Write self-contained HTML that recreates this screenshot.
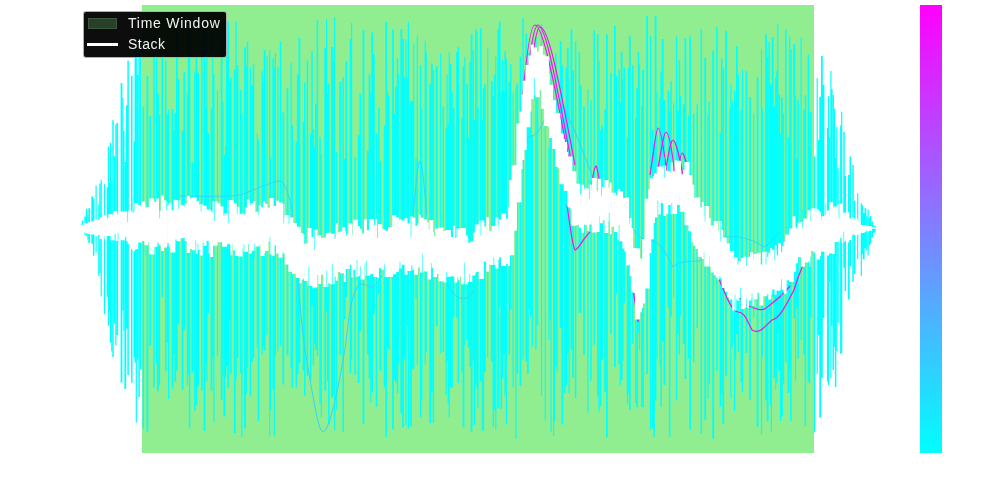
<!DOCTYPE html>
<html><head><meta charset="utf-8"><style>html,body{margin:0;padding:0;background:#fff;width:1000px;height:500px;overflow:hidden;position:relative}</style></head>
<body>
<svg width="1000" height="500" viewBox="0 0 1000 500" style="position:absolute;left:0;top:0">
<defs><linearGradient id="cb" x1="0" y1="0" x2="0" y2="1"><stop offset="0" stop-color="#ff00ff"/><stop offset="1" stop-color="#00ffff"/></linearGradient></defs>
<rect x="142" y="5" width="672" height="448" fill="#90ee90"/>
<g fill="none" stroke="#00ffff"><path stroke-width="1.2" d="M87.9 215.1V239.7M96.1 185.5V252.6M98.8 204.5V276M101.2 179.8V296.4M104.5 184.3V314.1M107.3 187.2V297.1M108.4 146.5V325.9M109.4 182.9V310.6M111.8 181.1V351.6M115.9 124.7V345.6M122.9 98V310.6M123.9 131.1V331.1M134.2 141.5V357.6M135.2 50.6V362.4M136.3 42.6V422.6M156.6 55.2V364.3M168.6 109.7V399.1M187.4 93V385.3M188.4 35.7V375M205.8 107.7V363.8M206.9 23.7V381.3M212.8 30V357.4M213.9 74.3V422.3M217.5 90.3V356.2M222.9 102V376M225.6 145.5V377.5M236.1 21V379.8M241.9 113.3V436.9M246.3 66.6V394M257.3 133.6V347.5M262.2 70.5V354.5M263.2 81.1V345.7M267 56.4V335.1M269.7 50.2V436.4M270.7 156.9V410.3M274.3 68.1V435.7M275.4 53.3V355.5M277.9 66.7V351.2M291.1 62.8V367.9M314.6 146.7V344.3M321.3 153.9V417.3M326.6 19.2V311.8M327.6 94.1V381M334.7 16.9V430.2M336.7 151.8V409.7M351.6 23.1V360.3M370.8 93.3V402.5M387.4 90.5V347.1M398.7 73.8V364.2M406 39.8V425M408.4 22.1V428.4M413.7 43.4V369.1M417.3 35.6V364.7M421.9 109.3V400.5M425.2 40.8V364.7M426.2 51.9V352.8M440.7 53.7V353.5M446.1 128.7V395.1M447.1 74.7V361M448.2 123.7V403.2M449.2 52.2V417.3M464.9 57.3V344.7M477 32.1V387.9M478 108V407.7M482.2 120.1V430.4M487.7 48.2V357.5M495.8 56.7V429.4M506.4 58.6V424.6M513.1 92.6V387.5M515.9 86.5V439M541.5 24.1V395.7M545.3 99.5V420.3M549 147.6V340M550.1 110.3V319.7M551.1 60.9V432.3M553.6 85.1V435.9M554.7 108.9V421M557.1 100.8V371.7M569.1 78.5V393.1M587.9 88.9V412.4M599 61.1V411.6M620.3 101.9V385.3M623 80.3V360.7M627.4 137.6V403.4M628.5 67.7V393.3M635.7 118V403.6M638.4 52.1V332.8M639.5 63.5V350.3M641.7 106.2V407.1M650.5 36.1V430.1M656.9 92V358.9M660 97.6V366.9M673.7 103.2V297.8M676.5 36.4V400.5M680.6 95.7V316.5M707.9 114.9V399.1M729.9 108.6V298.2M730.9 84.2V397.5M734.5 90.6V411M735.6 101.7V359.3M738.3 74.3V351.5M742.5 70.1V392.4M753.7 114V317.6M761.5 49.5V434.4M762.5 108.8V356.4M770.3 84.1V405.2M771.4 85.3V431.6M775.7 77.8V389.9M776.8 70.9V383M777.8 23.8V334M780.5 133.3V420.8M789.7 36.8V370.3M795.6 95.6V380.8M801.1 37.2V340.1M809.6 145V383.8M817.2 78.3V374.2M827.5 128.1V381.6M828.5 96.3V384.9M830.9 70.9V378.2M832 89.1V326.1M834.4 108.8V346.8M836.8 126.9V351.1M840.7 125.5V353.9M841.7 111.8V353M857.7 193.3V259.3M861.3 203V276M862.4 205.2V254.5M868.1 209.6V255.6M873.5 225.3V232.9"/><path stroke-width="1.5" d="M82.6 220.5V230.1M86.7 208.8V235.6M93.7 198.5V255.7M100 183.4V272.7M110.6 142.7V342.8M113 120.3V357M126.8 105.2V328.4M128.1 60.7V375M131.8 75.9V382.8M139.1 48.5V396.9M143.3 106.4V428.6M154 36.1V387.8M159.4 114.9V385.2M165.8 60.4V371.1M172.4 109V388.4M173.8 130.9V354.2M189.6 18V428.4M194.9 71.2V411.1M201.9 38.7V390.8M226.8 39.8V365.7M228.2 21.5V387.7M229.5 81.7V320.2M230.9 77.4V373.8M240.7 90.1V373.1M247.5 41.9V367.6M250.5 67.6V396.6M253.5 64.3V358.2M258.5 139.5V421M273.1 58.2V389M280.5 41.4V346M292.3 124.9V388.1M296.3 142.1V387.4M303.4 122V370.6M304.8 82.4V395.8M307.4 60.4V375.8M310.7 133.9V380.3M312 51V305.4M313.4 129.2V365.6M317.4 19.7V355.8M320.1 137V403.6M328.8 83.5V424.7M333.5 61.4V395.4M343.2 77.3V432.2M350.4 38.7V373.1M355 157.3V375.1M376.5 133.4V407.1M378.9 108.1V294.3M386.2 22V436.8M394.5 113.8V380M397.5 58V392.9M407.2 77.7V326.2M412.5 101.3V368.8M416.1 158.8V298.1M420.7 64.9V417.6M433.4 70V422.9M443.3 106.6V352.1M452.1 91.7V387.8M456.9 52.3V317.7M458.3 46.8V382.9M462 117.9V372.2M468.7 137.7V347.4M470.1 61.4V367.1M473.1 49.9V360.8M474.4 119.6V425M475.8 29.1V384.8M483.4 88.4V431.2M493.3 96V426.4M494.6 74.8V410.3M498.2 29.4V408.2M501.2 92.2V409.1M502.5 59.6V379M503.9 90.8V354.4M505.2 51V395.4M509.3 81.5V354.4M510.7 64.5V309.5M523.1 18V359.2M529.4 68.5V309.1M532.4 135.6V346.2M535.9 37.5V349.2M555.9 53V367.1M564.9 107V393.5M566.3 67.6V385.7M575.6 41.6V397.9M579.3 52.2V312.7M591 100.5V380.7M594.2 30.3V344.7M597.8 34.1V395.7M610.9 73V334M616.4 75.8V294.3M619.1 69.7V364.1M624.2 67.4V303M632.8 65.1V343.7M652.7 129.6V428.6M654.1 145.6V436.7M661.2 71.3V407.1M668.4 90.5V308.1M669.7 111.2V437.1M671.1 80.9V316.7M679.4 60.2V354.6M690.2 36.6V430M693.7 114V362.3M697.2 104.6V328.1M701.3 29V433.8M709.1 101.8V384.2M716.9 26.9V370.9M720.4 132.9V406.8M721.7 58.3V393.8M732.1 101.5V347.3M741.3 110.6V382.1M769.1 42.1V312.7M783.4 113.8V384.4M785.9 29V362.6M790.9 49.2V421M796.8 158.7V307.8M798.1 99.8V358.6M804 110.1V354.8M805.4 95.2V426.3M808.4 54.5V381.9M810.8 111.4V317.2M814.5 156.5V432.2M829.7 137.6V281.7M833.2 94.9V370.1M835.6 158.1V387M838 168.3V322.6M844 131.8V267.7M845.3 175.9V291M850.3 156.6V266.3M853 164.9V281.9M866.9 216.2V250.5M869.3 217.7V245.6M870.6 216V243.7"/><path stroke-width="1.8" d="M81.1 224.6V230.1M85.2 216.6V234.7M89.2 208.3V242.9M92.2 196.4V243.7M114.5 156.3V323.8M117.2 122.9V334.9M121.5 82.9V382.4M125.3 162V389M137.6 74.4V359.8M140.6 40.5V369.6M147.4 76V431.5M150.2 116V345.8M157.9 93.7V391.4M162.4 51.5V297.4M167.3 114.9V342.9M175.3 113V381.8M176.9 26.7V370.4M178.6 79.3V324.1M182.6 130.8V389.8M184.3 72.2V330.2M192.4 162.2V372.5M196.4 55.5V404.8M198.1 73V386.2M204.5 28.2V430.8M208.2 133.2V313.1M211.5 108.5V390.4M221.6 41.7V400M224.3 154.9V416.5M234.8 69.2V432.9M237.5 65.4V358M245 47.4V428.5M252 85.5V362.1M264.6 50.3V350.3M283.3 112.6V384.6M287.5 88.2V355.2M297.8 74.6V374.6M299.4 37.9V362.9M315.9 104.1V350.3M325.2 47.7V390.8M332 46.9V397.8M340.3 81.7V355.3M344.7 159.1V319.1M346.3 61.3V297.1M358.6 134.9V383M360.3 93.9V331.3M363.5 30.2V424.2M367.8 150.8V354.6M369.5 74.3V378.3M372.2 32.4V392.5M373.8 54.2V313.9M380.4 161V370.7M384.7 125.3V387.2M388.7 95.4V348.9M393 29.4V429.4M396 86.4V382.3M401.3 29.1V413.1M403 39.1V427.3M404.6 77.6V359.3M411 100.9V426.3M430.2 83.6V423.2M431.9 63.3V392.4M436.7 66.4V326.2M450.6 63.8V387.3M453.6 108.5V317.2M463.5 66.6V427.3M467.2 83.6V339.8M471.6 34.3V432.2M480.8 28.6V381.6M484.9 84.6V372.2M491.8 81.2V361.7M499.7 21.7V307.5M517.3 83.7V373.4M520.5 56.8V386.1M526.3 33.6V361.3M527.9 53V374.1M530.9 82V316.6M537.4 59.9V325M560.7 41.3V327.7M562.3 65.1V424.4M567.8 47.7V353.2M571.5 29.6V349.4M573.1 71.1V377.7M580.8 85V313.1M584 106.2V354.7M600.3 130.4V406.2M602 125.4V359.4M605.2 109.2V391.7M606.9 34.3V437.4M614.9 26V367.2M621.7 51.4V379.9M629.8 35.5V410M637.1 88.2V407.3M643 69.9V407.3M647.1 16.2V374.1M655.6 16.1V400.6M662.7 39.1V341.4M664.4 100.3V385M677.9 110.7V334M683.7 104.6V343.8M685.4 38.3V379M688.7 115.6V358.8M705.2 57.8V420.2M713.2 50.8V438.7M723.2 68.5V424.1M726 30.8V376.3M736.9 46.3V333.9M746.5 71.2V352.9M750 96.9V400M757.6 77.2V426.8M766 34.2V400.4M767.6 57.3V421.1M772.7 37.1V296.5M774.4 106.3V378.1M779.2 94.8V371.1M781.9 97.5V416.5M788.4 137.7V393.1M794.2 44V318.6M818.6 140V335.3M820.2 96.8V417.6M821.9 56.1V377.8M823.5 85V318M848.8 174.9V299.5M854.5 200.8V274.1M863.7 212.9V259.6M865.4 208.2V248.2M872.1 221.4V237M874.8 225.8V232.4"/></g>
<g fill="none" stroke="#2fd6ff" stroke-width="1">
<path d="M180,196 C200,196 225,197 240,195 C255,190 270,182 279,181 C285,181 288,192 292,210 C296,250 300,320 306,356 C312,390 318,432 323,432 C330,432 340,380 346,342 C349,315 352,290 360,284 C365,284 368,287 372,287 C375,286 378,282 382,276"/><path d="M446,280 C450,290 454,296 460,298 C465,299 468,299 474,290"/>
<path d="M413,215 C416,185 418,161 420,161 C422,161 424,185 427,215"/>
<path d="M500,268 C505,230 512,185 528,137 C531,135 534,137 538,132 C545,118 552,106 560,103 C572,120 582,150 592,175 C600,190 610,215 620,226"/>
<path d="M628,222 C636,232 640,240 648,240 C656,240 662,244 673,267 C680,262 686,261 700,261 C710,250 716,238 724,237 C740,236 750,238 764,247 C770,244 775,236 780,232"/>
</g>
<g fill="none" stroke="#e818e8" stroke-width="1.2">
<path d="M517,170 C523,80 529,25 535,25 C542,25 552,70 570,165"/>
<path d="M519,168 C526,80 532,25 538,25 C545,25 554,70 572,165"/>
<path d="M521,168 C529,90 534,27 540,27 C548,27 557,70 575,165"/>
<path d="M650,175 C654,150 656,128 658,128 C661,128 664,150 667,175"/>
<path d="M657,175 C661,150 664,132 666,132 C669,132 672,150 675,175"/>
<path d="M664,178 C668,160 670,140 673,140 C676,140 680,160 684,180"/>
<path d="M676,185 C679,170 680,153 682,153 C685,153 688,170 692,190"/>
<path d="M567,205 C570,225 572,245 575,250 C578,250 582,240 590,232"/>
<path d="M590,200 C592,180 594,167 596,166 C598,168 600,185 602,200"/>
<path d="M626,240 C630,260 634,300 638,322 C641,300 644,270 650,250"/>
<path d="M716,272 C724,290 730,310 738,312 C744,312 746,318 752,330 C760,335 766,325 772,320 C780,318 786,305 794,290 C797,280 800,272 803,265"/>
<path d="M728,275 C736,292 742,305 748,306 C756,308 760,312 766,308 C774,302 780,298 790,286"/>
</g>
<g fill="none" stroke="#ffffff"><path stroke-width="2" d="M84.2 222.8V232.3M94.3 220.3V232.5M127.3 212.6V241.2M144.4 204.3V240.4M153.3 209.5V254.3M159.1 211V243.5M163.6 200.2V238.3M166.4 202V246M174.4 199.7V252.2M176.1 200.2V239.4M184.1 207V237.1M195.3 207.9V249.5M196.6 201.5V253.8M198.1 201V243.4M199.3 204.8V249.9M231.4 202.8V255.3M232.9 200.6V243.5M238.5 206.8V255.1M246.2 207.6V249.4M254.3 201.2V250.8M264 201.2V253.1M267.4 207.5V251.1M269 208.2V241.7M300.6 232.9V283.2M302.1 233.1V279.9M303.6 234.3V278.5M313.4 242.4V288.3M326.8 232.9V276.6M336.7 222.9V280.8M344.8 231.2V281.9M352.2 235.2V277.2M358.9 225.9V275.7M376.5 218.7V273.3M378 224.6V277.7M401.1 226.1V263.2M417.8 225V266.6M418.8 223.1V267.3M419.7 214.6V262.7M432.9 232.6V264.5M454.1 225.7V276.4M459.1 230.5V280.3M460.4 228.6V276.6M467.3 237.9V274.8M474.6 232.5V273.9M483.4 222.1V261.2M498.2 230.3V260M509 207.3V266M547.4 75.5V122.6M548.6 73.5V126.7M563.9 139.2V183.6M567.3 151.7V190.5M570.8 167.6V208.4M584.6 189.6V224.5M588.2 189.3V230.9M610.6 182.5V234.2M618 191.3V239.8M619.1 189.1V233.2M629.4 223.7V265M630.6 217.9V276.2M632.3 228.2V292M633.8 247.9V292.8M634.9 248.5V292.9M653.9 176V223M671.7 162.4V214.4M675.6 160.2V205.8M683.9 170.3V209.8M702.8 201.9V259M704.3 215.6V251.7M710.5 225.5V266.8M717.2 221V277.8M718.5 231V279.8M730.1 252.4V299.6M737.2 264.8V299.8M738.2 264.5V300.7M747.9 256.9V307.9M753.3 259.3V305.9M771.2 248V294.6M775.5 245V294.8M795.1 226.6V271.1M810.2 221.5V266.4M825.8 218.4V253.8M829.2 215.9V253.5M853.2 217.4V233.2M867.7 226.2V231.6"/><path stroke-width="3" d="M96.4 219.4V236M98.8 220V234.9M110 213.9V235.9M117.2 214.3V241M119.6 218.7V235M133.9 213.7V250.7M157.7 198.5V242.1M160.7 210.8V245.6M162.4 195.6V251M165.5 200.4V247.5M168.6 205.5V243M170.1 203.3V246.6M186.2 203.4V241.1M188.3 195.7V253M201.2 204.2V255.4M202.5 205.2V242.5M205.1 205.8V245.8M210.2 210.7V253.5M211.6 212.8V257M248.4 199.8V244.3M250.3 205.4V253.5M259.7 205.5V244.6M266.1 203.8V250.9M273.1 210.2V255.8M277.5 200.7V253.4M284.4 216.8V253.4M317.7 235.7V275.1M319.7 234.9V284.1M343.8 227.2V270.7M357.1 228V277M360.3 228.8V266.3M365.4 219.3V262.9M382.6 229.1V269.8M383.9 229.5V266.2M406 217.9V274.7M411.6 216.4V265.5M413.9 217.8V270M427.2 222.2V267.9M445.2 230.7V282.4M455.9 237.9V282.4M457.7 228.5V277.3M466.2 235.5V284.2M478.3 236.1V268.5M487.7 217.3V271.5M496.9 217.4V268.5M500.2 219.8V257.3M515.4 165.2V229.6M521 111.6V169.1M522.8 94.5V160.1M529.9 55.4V111.6M532.2 44.7V99.1M559.3 119.5V168.3M565.5 141.9V190.9M582.6 184.7V232.8M586.2 188V225.1M590.3 184.5V224.4M591.7 190.9V220.7M601.4 189.6V223.2M603.6 187V220.3M625.9 201.3V251.4M627.6 197.3V265.5M641.6 258.4V307.9M643.7 239V303.6M649.7 189.6V253M664.7 165.6V216M666.8 170.8V213.7M679.4 161.1V204.9M692.7 184.7V242.3M720.4 221.1V275.9M721.8 230V278.5M736 257.5V298.5M739.9 260.8V297.9M744.8 256.7V307.6M749.9 256.7V300.6M751.7 252.3V298.4M769.8 252.8V299.4M779.6 243V286.3M782.1 252V289.3M783.7 246.2V290.1M785.1 242.1V293.7M794 216.3V271.9M796.5 228.3V263.2M808.9 210.2V261.5M819.6 212.4V256.2M821.5 219.8V251.4M827.5 210.6V255.5M833.2 208.7V254M838.6 204.2V240.7M843.1 214V242.7M847.7 212.2V242.2M849.5 218.3V240.1M857.3 221.5V234.4M859.1 222.4V234.6M864.4 224.9V232.1M866 226V230.3"/><path stroke-width="4" d="M89.9 222.2V234M105.3 215V236.3M112.6 214.4V240.2M115.3 211.1V233.9M129.7 210.7V244.1M136 203V249.2M143.1 201.6V240.9M146.4 207.7V245.3M155.5 202.1V246.7M172.2 210.2V252.4M178.5 200.2V241.2M190.5 198.5V249.1M221.4 206.6V242.3M226.5 213.2V244.1M234.8 203.2V250.2M236.9 214.2V256.1M240.6 214.6V256.6M242.4 213.7V247.4M252.6 203V250.8M262.5 207.4V256.1M271.6 198.1V254.6M275.7 205.9V245.5M280.5 202.6V257.8M282.4 203.7V251.4M309.5 228.1V285.9M311.7 236.8V286.1M315.5 229.4V287.6M328.9 232.7V283M342 231.4V273.3M350.4 223.6V264.7M362.6 233.5V279.6M380.2 224.2V268.3M394.2 215V274.2M396.9 217.2V271.8M400.1 219.6V268.6M403.2 220.4V264.7M416 226V274.8M421.8 217.8V272.6M425.1 219.1V271.4M429.3 229V279.6M431.4 220.1V268.1M435 236.2V276.9M443.4 231V281.2M476.9 224.6V272.1M485.6 226.5V261.6M490.5 231.3V264.8M524.7 80.7V149.9M535.1 47.6V95.5M537.7 51.5V97.2M540.8 46.1V90.2M543.2 54.7V108.8M551 84.8V138.1M554 100.2V149.1M561.5 133.6V184.2M581 194.7V227.7M599.7 178.7V216.5M606.5 179.9V232.9M609 187.8V221.2M616.1 195.3V232M621.1 191.3V241.2M624.4 198V248.6M639.9 263.2V312.3M651.7 178.2V239.3M656 173.6V217.4M658.8 166.7V214.4M669.4 171.4V205.1M690.4 174.9V231.3M695.3 198V245.8M708.7 217.9V256.7M712.8 225.4V272.4M715.7 221.1V275.3M729.3 250.9V297.3M732.1 251V299.4M734.3 258.3V310.6M742.9 258.1V308.9M746.9 266V298.6M755.5 254.1V299.3M758.7 252.8V292.8M761.3 264.5V305.6M768.2 256.9V294.3M803.1 221.7V266.8M812.7 208.3V251M818.1 210.7V259.5M823.5 216V251.5M831.2 202.3V253.3M840.7 203.7V237.9M851.6 220.8V234.9M855.8 218.8V234.7M870 226.1V230.7M873.4 227V228.8M876.1 227.5V228.9"/><path stroke-width="5" d="M81.5 224.8V229.9M87.1 223.3V233.6M92.8 221.5V234.4M102.1 217.7V239.1M107.6 217.2V236M122.6 211.4V240.3M125.2 211.6V237M132.1 212.6V248.8M139.8 205.2V242.5M148.7 207V242.1M151.7 198.4V254.2M182 205.2V238.2M194.1 197.5V250.2M208.2 209.5V240.8M215.1 201.2V245.7M217.9 203.3V242.3M224.6 215.6V246.7M229.8 200.1V244.3M245.5 214.6V251.8M257.2 211.7V246.4M287.2 214.9V264.5M290.9 217.6V271.8M294.4 223.1V273.7M298.3 226.8V278M306.6 243.5V280.9M323.1 237.7V274.8M325.8 237.6V287.1M332.1 233.8V284.3M335.5 238.6V276.4M339.3 232.3V271.9M347.3 233.5V269M355.4 219.7V270.1M367.9 230.3V275.7M371.5 219.1V274.1M375.5 225.1V276.9M386.8 230.8V276.9M390.5 227V276.8M408.8 223.3V271.1M437.4 228.4V274.1M441 227.3V281.2M448.4 230V276.7M451.4 237V276.3M463.5 227.9V284.3M469.8 242.8V282M472.8 241.6V275.6M481.3 220.4V279.1M494 225.9V264.9M503.6 213.3V266.1M506.5 218.4V263.7M511.7 180.1V255.2M514.2 165.5V230.7M518.9 123.6V202.2M528 65.1V127.3M546.4 56.3V126M557.8 113.2V167M569.9 156.4V207.3M573.9 171.3V225.7M577.8 183.8V225.2M594.2 177.9V232.4M597 191.2V232M613.4 192.8V226.8M637.6 248.2V319.6M647.2 198.8V288.6M661.7 166.6V203M674.6 171.3V214.1M678 160.8V204.7M682.3 174.3V211.7M687 162.1V225.3M697.8 197.4V249.1M700.3 207.6V257M706.8 206V266.5M724.2 237.5V288.1M727.4 243.4V291.8M764.7 251.7V296.2M774 250V289.5M778 255.3V290.8M787.8 234.5V280.3M791.4 228.5V282.1M800 222.5V256.9M805.9 218.4V262.6M816.1 209.2V252.5M835.9 206.5V242.1M845.5 212.7V241.1M862.1 225.1V233"/></g><path fill="none" stroke="#00ffff" stroke-opacity="0.75" stroke-width="0.9" d="M107.4 212.2V218.8M118.1 233V242.3M127.6 206V222.3M134.1 202.3V212.5M145.1 244.9V255.7M159.6 194.3V218.3M166.5 193.7V210.2M178.6 192.9V209.4M184.5 243.2V253.8M195.7 240.5V255.2M201.1 196.4V211.8M214.6 198.3V221M228.4 198.9V222.8M244 244.4V259.1M254.4 243.7V258.7M258.4 197.6V214.9M270 237.2V258.7M283.7 200.1V223.4M288.9 204.3V224.2M304.4 226.8V244.1M308.8 266.4V289.2M314.4 228.2V250M326.7 270.3V288.5M332.4 264V286.3M346.5 219.6V235.9M357.1 259.9V281M366.4 260.6V280.4M377.5 216.3V237.8M384.4 264.4V279.2M400 261.5V276.5M411 213.7V237.4M422.4 253.7V277.1M431.4 263.2V280.5M446.6 271.6V285M452.1 224.8V235.4M457 225.9V237.1M464.4 262.7V287.1M469.7 274.1V286.6M480.9 219.5V235.7M493.8 257.4V274.2M498 214.4V225.4M534.5 78.1V100.2M581.2 184.5V193.4M589.6 180.5V199.1M601.5 176.1V196.1M609.2 212.8V235.3M619.1 224.9V241.9M657.8 200.2V219.3M664.6 157V178.1M671.7 203V217.8M705.1 205V221.4M720.7 222.1V241.4M735 294.7V311.5M740.5 287.6V310.9M752 293V309.4M766 247.8V264.5M774.7 244.1V260.3M781.5 279.3V298.3M796.4 214.5V226.3M802.6 209.3V228M810.4 256.5V267M825.6 203.5V215M839 201.1V218.6M843.7 231.6V244.8"/>
<rect x="920" y="5" width="22" height="448" fill="url(#cb)"/>
</svg>
<div style="position:absolute;left:83px;top:11px;width:142px;height:45px;background:rgba(0,0,0,0.95);border:1px solid rgba(204,204,204,0.85);border-radius:3px;"></div>
<div style="position:absolute;left:88px;top:18px;width:29px;height:11px;background:#2a3f2a;border:1px solid #3b5a3b;box-sizing:border-box"></div>
<div style="position:absolute;left:87px;top:43px;width:31px;height:3px;background:#fff"></div>
<div style="position:absolute;left:128px;top:15px;font:14px 'Liberation Sans',sans-serif;letter-spacing:0.75px;color:#f2f2f2;white-space:nowrap;line-height:16px;will-change:transform">Time Window</div>
<div style="position:absolute;left:128px;top:36px;font:14px 'Liberation Sans',sans-serif;letter-spacing:0.5px;color:#f2f2f2;white-space:nowrap;line-height:16px;will-change:transform">Stack</div>
</body></html>
